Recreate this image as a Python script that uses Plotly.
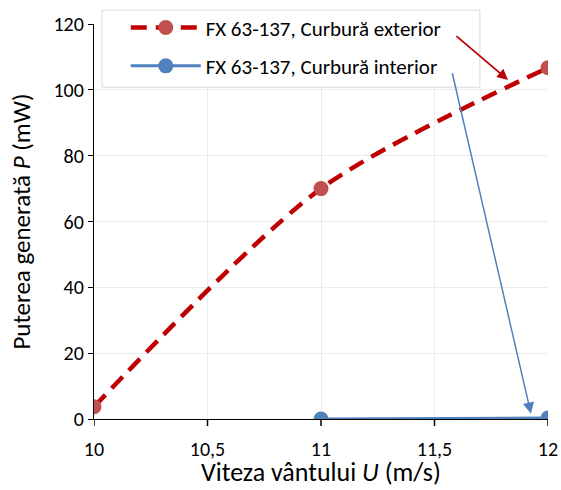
import plotly.graph_objects as go

# Wind speed (m/s) and generated power (mW)
u_exterior = [10, 11, 12]
p_exterior = [3.7, 70, 106.7]
u_interior = [11, 12]
p_interior = [0, 0.3]

x_ticks = [10, 10.5, 11, 11.5, 12]
y_ticks = [0, 20, 40, 60, 80, 100, 120]

label_ext = "FX 63-137, Curbură exterior"
label_int = "FX 63-137, Curbură interior"
x_title = "Viteza vântului <i>U</i> (m/s)"
y_title = "Puterea generată <i>P</i> (mW)"

FONT = "Calibri, Carlito, Lato, sans-serif"
PLOT_H = 490 - 24 - 71

fig = go.Figure()
fig.add_trace(go.Scatter(
    x=u_exterior, y=p_exterior, name=label_ext, legendgroup="a",
    mode="lines+markers",
    line=dict(color="#C00000", width=4.5, dash="16px,9px", shape="spline", smoothing=0.8),
    marker=dict(color="#C0504D", size=15),
))
fig.add_trace(go.Scatter(
    x=u_interior, y=p_interior, name=label_int, legendgroup="b",
    mode="lines+markers",
    line=dict(color="#4F81BD", width=3),
    marker=dict(color="#4F81BD", size=15),
))

# Short black tick marks under the x axis (labels sit a bit lower than the marks)
for v in x_ticks:
    fig.add_shape(type="line", xref="x", yref="paper", x0=v, x1=v, y0=0, y1=-7 / PLOT_H,
                  line=dict(color="#000000", width=1.5), layer="above")

# Legend frame (white box over the grid)
fig.add_shape(type="rect", xref="paper", yref="paper",
              x0=0.0176, x1=0.850, y0=0.840, y1=1.035,
              fillcolor="white", line=dict(color="#D9D9D9", width=1), layer="above")

# Pointers from the legend entries to the curves
fig.add_annotation(x=11.824, y=103, ax=11.59, ay=116.7, xref="x", yref="y", axref="x", ayref="y",
                   text="", showarrow=True, arrowhead=2, arrowsize=1.2, arrowwidth=1.8, arrowcolor="#C00000")
fig.add_annotation(x=11.925, y=1.6, ax=11.577, ay=105.5, xref="x", yref="y", axref="x", ayref="y",
                   text="", showarrow=True, arrowhead=2, arrowsize=1.5, arrowwidth=1.5, arrowcolor="#4F81BD")

# X-axis title placed below the tick labels, its box ending just above the page bottom
fig.add_annotation(x=0.5, y=0, xref="paper", yref="paper", xanchor="center", yanchor="bottom",
                   yshift=-70, text=x_title, showarrow=False, borderpad=0,
                   font=dict(family=FONT, size=26, color="#000000"))

fig.update_layout(
    width=561, height=490,
    margin=dict(l=94, r=13, t=24, b=71, autoexpand=False),
    paper_bgcolor="white", plot_bgcolor="white",
    separators=",.",
    font=dict(family=FONT, size=20, color="#000000"),
    showlegend=True,
    legend=dict(
        x=0.07, y=1.042, xanchor="left", yanchor="top",
        bgcolor="rgba(0,0,0,0)", borderwidth=0,
        font=dict(family=FONT, size=21),
        itemwidth=70, traceorder="grouped", tracegroupgap=8,
    ),
    xaxis=dict(
        range=[10, 12], tickvals=x_ticks, ticktext=[f"{v:g}".replace(".", ",") for v in x_ticks],
        showgrid=True, gridcolor="#EBEBEB", gridwidth=1,
        showline=True, linecolor="#000000", linewidth=1.3,
        ticks="outside", ticklen=12, tickcolor="rgba(0,0,0,0)",
        zeroline=False, tickfont=dict(size=20), automargin=False,
    ),
    yaxis=dict(
        range=[0, 120], tickvals=y_ticks,
        showgrid=True, gridcolor="#EBEBEB", gridwidth=1,
        showline=True, linecolor="#000000", linewidth=1.3,
        ticks="outside", ticklen=5, tickcolor="#000000",
        zeroline=False, tickfont=dict(size=20), automargin=False,
        title=dict(text=y_title, font=dict(size=25)),
    ),
)

fig.write_html("out.html")
